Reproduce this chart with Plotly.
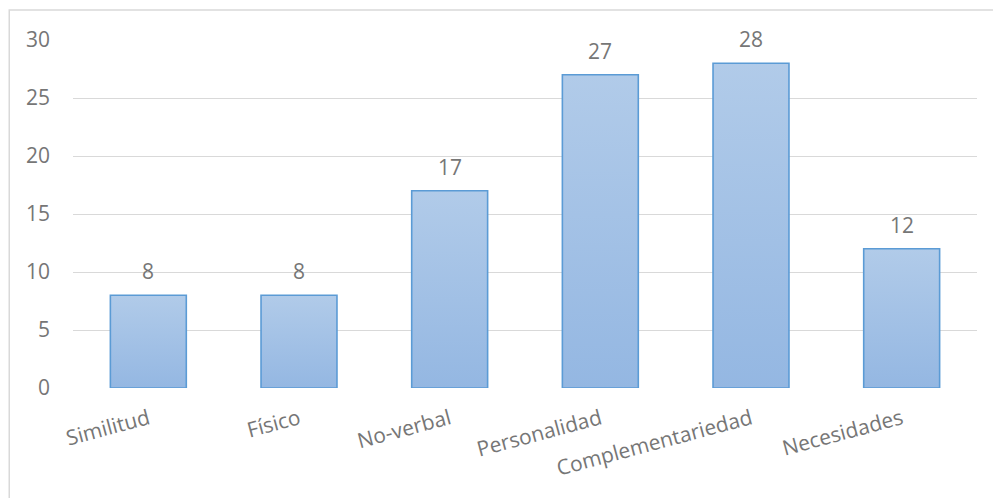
import plotly.graph_objects as go

# Categorías y recuentos
categorias = ["Similitud", "Físico", "No-verbal", "Personalidad", "Complementariedad", "Necesidades"]
valores = [8, 8, 17, 27, 28, 12]
ticks_y = [0, 5, 10, 15, 20, 25, 30]

FONT = "Open Sans"
TAM = 21
GRIS_TEXTO = "#767676"
GRIS_LINEA = "#d9d9d9"
BORDE_BARRA = "#5b9bd5"
MEDIO_ANCHO = 0.252

fig = go.Figure()

# Cada barra se dibuja como un polígono con relleno degradado vertical
for i, v in enumerate(valores):
    x0, x1 = i - MEDIO_ANCHO, i + MEDIO_ANCHO
    fig.add_trace(go.Scatter(
        x=[x0, x0, x1, x1, x0],
        y=[0, v, v, 0, 0],
        mode="lines",
        fill="toself",
        fillgradient=dict(
            type="vertical",
            colorscale=[[0, "#94b7e2"], [1, "#b1cbe9"]],
        ),
        line=dict(color=BORDE_BARRA, width=1.6),
        hoverinfo="skip",
        showlegend=False,
    ))

# Etiquetas de valor sobre cada barra
for i, v in enumerate(valores):
    fig.add_annotation(
        x=i, y=v, text=str(v), showarrow=False,
        yanchor="bottom", yshift=8,
        font=dict(family=FONT, size=TAM, color=GRIS_TEXTO),
    )

# Borde del área del gráfico
fig.add_shape(
    type="rect", xref="paper", yref="paper",
    x0=-0.0705, x1=1.03, y0=-0.4, y1=1.0862,
    line=dict(color=GRIS_LINEA, width=1.5),
    fillcolor="rgba(0,0,0,0)", layer="below",
)

fig.update_layout(
    width=993, height=498,
    margin=dict(l=73, r=16, t=40, b=110),
    paper_bgcolor="white", plot_bgcolor="white",
    font=dict(family=FONT, size=TAM, color=GRIS_TEXTO),
    xaxis=dict(
        range=[-0.5, 5.5],
        tickmode="array",
        tickvals=list(range(len(categorias))),
        ticktext=categorias,
        tickangle=-15,
        showgrid=False, zeroline=False,
        showline=False, ticks="",
        ticklabelstandoff=14,
        tickfont=dict(family=FONT, size=TAM, color=GRIS_TEXTO),
        fixedrange=True,
    ),
    yaxis=dict(
        range=[0, 30],
        tickmode="array",
        tickvals=ticks_y,
        showgrid=True, gridcolor=GRIS_LINEA, gridwidth=1.3,
        zeroline=False, showline=False, ticks="",
        ticklabelstandoff=22,
        tickfont=dict(family=FONT, size=TAM, color=GRIS_TEXTO),
        fixedrange=True,
    ),
)

fig.write_html("out.html")
